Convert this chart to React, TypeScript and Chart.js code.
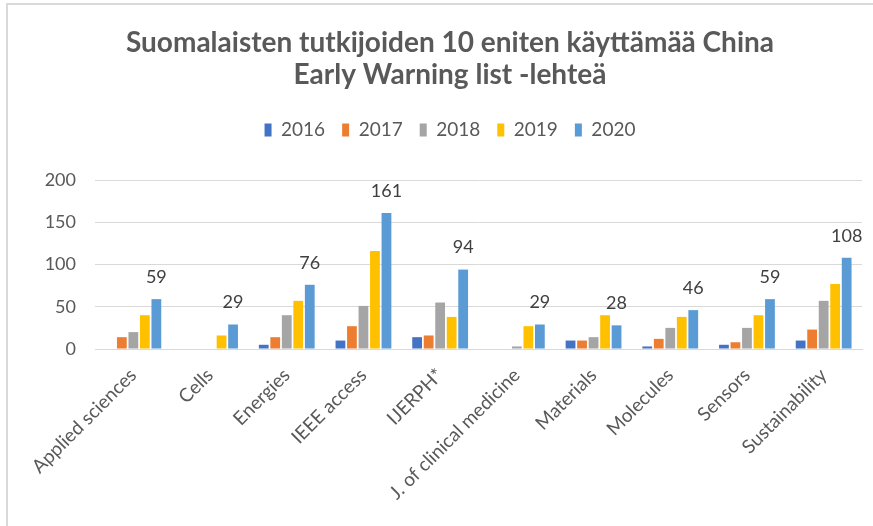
import React, { useEffect, useRef } from "react";
import { Chart, registerables } from "chart.js";

Chart.register(...registerables);

const titleLines = ["Suomalaisten tutkijoiden 10 eniten käyttämää China", "Early Warning list -lehteä"];
const categories = [
  "Applied sciences",
  "Cells",
  "Energies",
  "IEEE access",
  "IJERPH*",
  "J. of clinical medicine",
  "Materials",
  "Molecules",
  "Sensors",
  "Sustainability",
];
const years = ["2016", "2017", "2018", "2019", "2020"];
const v2016 = [0, 0, 5, 10, 14, 0, 10, 3, 5, 10];
const v2017 = [14, 0, 14, 27, 16, 0, 10, 12, 8, 23];
const v2018 = [20, 0, 40, 51, 55, 3, 14, 25, 25, 57];
const v2019 = [40, 16, 57, 116, 38, 27, 40, 38, 40, 77];
const v2020 = [59, 29, 76, 161, 94, 29, 28, 46, 59, 108];
const colors = ["#4472C4", "#ED7D31", "#A5A5A5", "#FFC000", "#5B9BD5"];
const yTicks = [0, 50, 100, 150, 200];

const FONT = "Lato, 'Open Sans', sans-serif";
const TEXT = "#595959";
const CHART_TOP = 180;

const labelPlugin = {
  id: "lastLabels",
  afterDatasetsDraw(chart: any) {
    const ctx = chart.ctx;
    const idx = 4;
    const meta = chart.getDatasetMeta(idx);
    const data = chart.data.datasets[idx].data;
    ctx.save();
    ctx.font = `18px ${FONT}`;
    ctx.fillStyle = "#404040";
    ctx.textAlign = "center";
    ctx.textBaseline = "middle";
    meta.data.forEach((bar: any, i: number) => {
      ctx.fillText(String(data[i]), bar.x, bar.y - 22);
    });
    ctx.restore();
  },
};

const legendGapPlugin = {
  id: "legendGap",
  beforeUpdate(chart: any) {
    const lg = chart.legend;
    if (lg && !lg.__patched) {
      const orig = lg.fit;
      lg.fit = function (this: any) {
        orig.call(this);
        const titleBox = chart.titleBlock;
        const th = titleBox ? titleBox.height : 0;
        this.height = Math.max(this.height, CHART_TOP - th);
      };
      lg.__patched = true;
    }
  },
};

export default function App() {
  const ref = useRef<HTMLCanvasElement>(null);
  useEffect(() => {
    document.body.style.margin = "0";
    const series = [v2016, v2017, v2018, v2019, v2020];
    const chart = new Chart(ref.current!, {
      type: "bar",
      data: {
        labels: categories,
        datasets: years.map((y, i) => ({
          label: y,
          data: series[i],
          backgroundColor: colors[i],
          barPercentage: 0.85,
          categoryPercentage: 0.75,
        })),
      },
      options: {
        animation: false,
        responsive: false,
        maintainAspectRatio: false,
        layout: { padding: { left: 38, right: 11, top: 0, bottom: 0 } },
        plugins: {
          title: {
            display: true,
            text: titleLines,
            color: TEXT,
            font: { family: FONT, size: 28, weight: "bold", lineHeight: 1.15 },
            padding: { top: 27, bottom: 12 },
          },
          legend: {
            display: true,
            position: "top",
            labels: {
              color: TEXT,
              font: { family: FONT, size: 19 },
              boxWidth: 7,
              boxHeight: 13,
              padding: 17,
            },
          },
          tooltip: { enabled: false },
        },
        scales: {
          x: {
            grid: { display: false, drawTicks: false },
            border: { display: true, color: "#d9d9d9" },
            ticks: {
              color: TEXT,
              font: { family: FONT, size: 19 },
              maxRotation: 45,
              minRotation: 45,
              padding: 15,
              autoSkip: false,
            },
            afterFit(scale: any) {
              scale.height = 177;
            },
          },
          y: {
            min: 0,
            max: 200,
            afterBuildTicks(scale: any) {
              scale.ticks = yTicks.map((v) => ({ value: v }));
            },
            grid: { color: "#d9d9d9", drawTicks: false },
            border: { display: false },
            ticks: {
              color: TEXT,
              font: { family: FONT, size: 18 },
              padding: 19,
            },
            afterFit(scale: any) {
              scale.width = 57;
            },
          },
        },
      },
      plugins: [labelPlugin, legendGapPlugin],
    });
    return () => chart.destroy();
  }, []);
  return (
    <div style={{ position: "fixed", left: 0, top: 0, width: 873, height: 526, background: "#fff" }}>
      <div
        style={{
          position: "absolute",
          left: 6,
          top: 3,
          right: 0,
          bottom: 0,
          borderLeft: "2px solid #d9d9d9",
          borderTop: "2px solid #d9d9d9",
        }}
      />
      <canvas ref={ref} width={873} height={526} style={{ position: "absolute", left: 0, top: 0, width: 873, height: 526 }} />
    </div>
  );
}
